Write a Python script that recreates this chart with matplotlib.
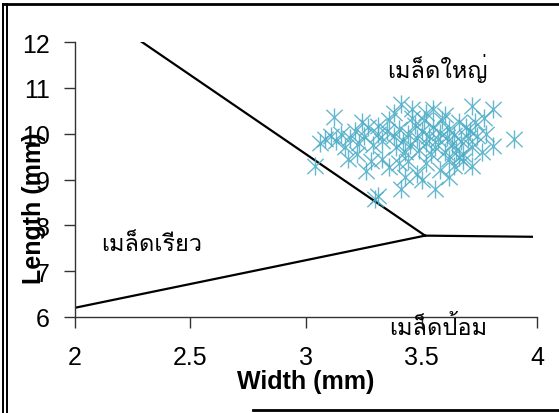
import matplotlib
matplotlib.use("Agg")
import matplotlib.pyplot as plt
from matplotlib import font_manager
from matplotlib.ft2font import FT2Font
from matplotlib.lines import Line2D
from matplotlib.path import Path

# boundary lines (width, length)
upper_w = [2.27, 3.515]
upper_l = [12.07, 7.775]
lower_w = [2.0, 3.515]
lower_l = [6.20, 7.775]
flat_w = [3.515, 3.977]
flat_l = [7.775, 7.75]

# large-grain samples (width mm, length mm)
seed_w = [3.35, 3.38, 3.40, 3.42, 3.44, 3.45, 3.47, 3.48, 3.50, 3.52, 3.53, 3.55,
          3.56, 3.57, 3.58, 3.60, 3.61, 3.62, 3.63, 3.64, 3.65, 3.66, 3.67, 3.68,
          3.70, 3.71, 3.72, 3.74, 3.36, 3.39, 3.43, 3.46, 3.49, 3.51, 3.54, 3.59,
          3.62, 3.66, 3.69, 3.73, 3.33, 3.31, 3.29, 3.27, 3.25, 3.23, 3.21, 3.19,
          3.17, 3.15, 3.13, 3.11, 3.08, 3.06, 3.04, 3.12, 3.22, 3.26, 3.31, 3.30,
          3.41, 3.36, 3.48, 3.56, 3.41, 3.46, 3.55, 3.72, 3.81, 3.90, 3.81, 3.72,
          3.31, 3.44, 3.52, 3.58, 3.64, 3.68, 3.76, 3.78, 3.33, 3.28, 3.18, 3.38,
          3.52, 3.60, 3.77, 3.24, 3.43, 3.50, 3.62, 3.40]
seed_l = [10.05, 9.95, 10.10, 9.85, 10.00, 9.75, 10.20, 9.90, 10.05, 9.80, 9.95, 10.15,
          9.70, 9.88, 10.02, 9.60, 9.92, 10.10, 9.78, 9.98, 9.65, 10.25, 9.85, 9.55,
          9.90, 10.05, 9.72, 9.95, 10.30, 9.70, 9.60, 10.35, 9.65, 10.30, 9.55, 10.30,
          9.45, 9.50, 10.15, 10.25, 9.85, 10.00, 9.75, 10.15, 9.95, 9.80, 10.05, 9.90,
          9.70, 10.00, 9.85, 9.95, 9.89, 9.80, 9.30, 10.37, 9.55, 9.19, 8.64, 8.58,
          8.79, 9.28, 9.12, 8.79, 10.65, 10.54, 10.54, 10.61, 10.54, 9.89, 9.73, 9.30,
          10.17, 9.40, 9.35, 9.20, 9.30, 9.40, 9.60, 10.00, 9.45, 9.40, 9.45, 10.45,
          10.45, 10.40, 10.35, 10.25, 9.05, 9.00, 9.05, 9.35]

labels = ["เมล็ดใหญ่", "เมล็ดเรียว", "เมล็ดป้อม"]
x_ticks = [2, 2.5, 3, 3.5, 4]
x_ticklabels = ["2", "2.5", "3", "3.5", "4"]
y_ticks = [6, 7, 8, 9, 10, 11, 12]


def thai_font():
    # prefer a serif-looking Thai face, else any font that has Thai glyphs
    found = []
    for f in font_manager.fontManager.ttflist:
        try:
            if 0x0E40 in FT2Font(f.fname).get_charmap():
                found.append(f.name)
        except Exception:
            pass
    for want in ["Norasi", "Kinnari", "Laksaman", "Garuda", "Loma"]:
        if want in found:
            return want
    return found[0] if found else None


tf = thai_font()
thai_family = [tf, "DejaVu Sans"] if tf else ["DejaVu Sans"]

plt.rcParams["font.family"] = ["Liberation Sans", "DejaVu Sans"]

# asterisk like Excel's: X plus a vertical bar
star = Path([(-0.9, -0.85), (0.9, 0.85), (-0.9, 0.85), (0.9, -0.85), (0, -1), (0, 1)],
            [Path.MOVETO, Path.LINETO, Path.MOVETO, Path.LINETO, Path.MOVETO, Path.LINETO])

fig = plt.figure(figsize=(5.59, 4.14), dpi=100)
ax = fig.add_axes([0.134, 0.232, 0.827, 0.664])

ax.plot(upper_w, upper_l, color="black", lw=1.6)
ax.plot(lower_w, lower_l, color="black", lw=1.6)
ax.plot(flat_w, flat_l, color="black", lw=1.6)
ax.scatter(seed_w, seed_l, marker=star, s=170, color="#4bacc6",
           linewidths=1.0, alpha=0.85, zorder=3)

ax.text(3.57, 11.45, labels[0], family=thai_family, fontsize=17, ha="center", va="center")
ax.text(2.33, 7.6, labels[1], family=thai_family, fontsize=17, ha="center", va="center")
ax.text(3.57, 5.78, labels[2], family=thai_family, fontsize=17, ha="center", va="center",
        clip_on=False)

ax.set_xlim(2, 4)
ax.set_ylim(6, 12)
ax.set_xticks(x_ticks)
ax.set_xticklabels(x_ticklabels)
ax.set_yticks(y_ticks)
for s in ["top", "right"]:
    ax.spines[s].set_visible(False)
for s in ["left", "bottom"]:
    ax.spines[s].set_color("#333333")
    ax.spines[s].set_linewidth(1.0)
ax.tick_params(axis="both", labelsize=18, length=8, width=1.0, color="#333333")
ax.tick_params(axis="x", pad=12)
ax.tick_params(axis="y", pad=10)
ax.set_xlabel("Width (mm)", fontsize=18, fontweight="bold", labelpad=0)
ax.set_ylabel("Length (mm)", fontsize=18, fontweight="bold")
ax.yaxis.set_label_coords(-0.063, 0.40)

# frame around the figure
fig.add_artist(Line2D([3 / 559, 3 / 559], [0, 1 - 5 / 414], color="black", lw=1.4))
fig.add_artist(Line2D([7 / 559, 7 / 559], [0, 1 - 5 / 414], color="black", lw=1.4))
fig.add_artist(Line2D([3 / 559, 1], [1 - 5 / 414, 1 - 5 / 414], color="black", lw=2))
fig.add_artist(Line2D([253 / 559, 1], [3 / 414, 3 / 414], color="black", lw=2))

fig.savefig("out.png", dpi=100)
